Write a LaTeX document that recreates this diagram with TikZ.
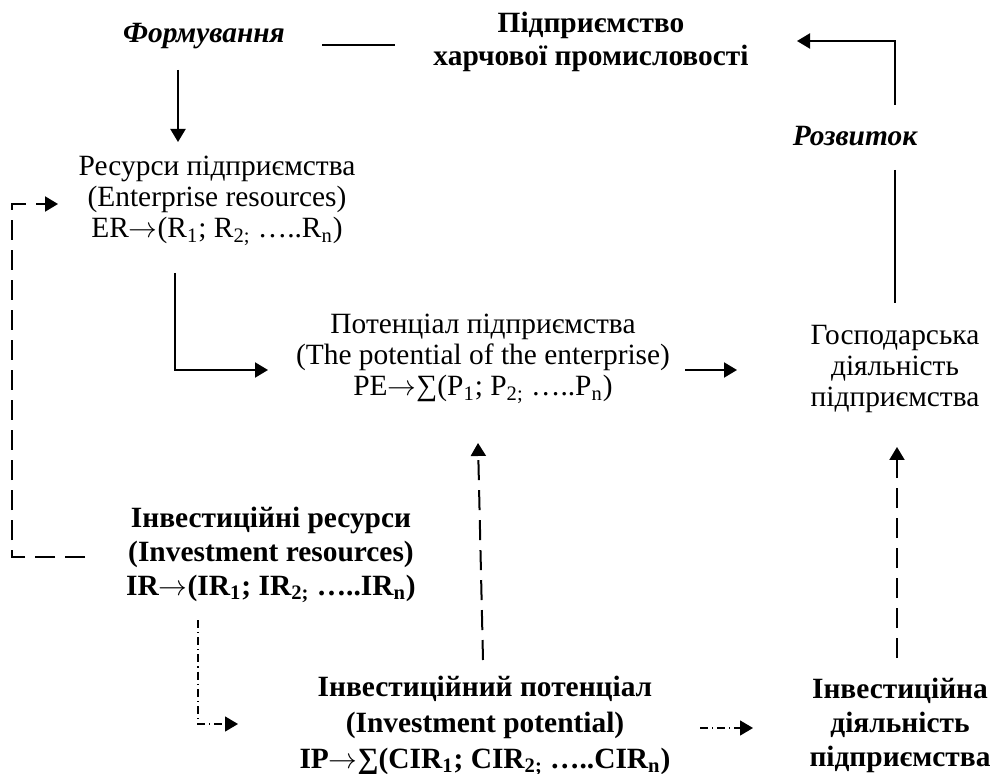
\documentclass[tikz,border=0pt]{standalone}
\usepackage{fontspec}
\setmainfont{Liberation Serif}
\usetikzlibrary{arrows.meta}
\newcommand{\rarr}{\ensuremath{\rightarrow}}
\begin{document}
\begin{tikzpicture}[x=0.5pt,y=-0.5pt,
  every node/.style={inner sep=0pt, outer sep=0pt},
  txt/.style={align=center, font=\fontsize{14.7}{15.5}\selectfont, anchor=base},
  btxt/.style={align=center, font=\fontsize{14.7}{17}\selectfont\bfseries, anchor=base},
  bitxt/.style={align=center, font=\fontsize{14.7}{17}\selectfont\bfseries\itshape, anchor=base},
  tip/.style={-{Triangle[length=6.5pt,width=7.5pt]}},
  conn/.style={line width=1pt},
  arr/.style={conn, tip},
  dsh/.style={line width=1pt, dash pattern=on 10pt off 5pt},
  dshdot/.style={line width=0.7pt, dash pattern=on 4pt off 2pt on 0.6pt off 2pt}]
\useasboundingbox (0,0) rectangle (1000,774);
% nodes (anchor = baseline of the last line)
\node[bitxt] (form) at (204,43) {Формування};
\node[btxt, font=\fontsize{14.7}{16.5}\selectfont\bfseries] (ent) at (591,66) {Підприємство\\харчової промисловості};
\node[bitxt] (dev) at (855,146) {Розвиток};
\node[txt] (er) at (217,238) {Ресурси підприємства\\(Enterprise resources)\\ER\rarr(R\textsubscript{1}; R\textsubscript{2;} …..R\textsubscript{n})};
\node[txt] (pe) at (483,396) {Потенціал підприємства\\(The potential of the enterprise)\\PE\rarr∑(P\textsubscript{1}; P\textsubscript{2;} …..P\textsubscript{n})};
\node[txt] (ga) at (895,407) {Господарська\\діяльність\\підприємства};
\node[btxt] (ir) at (271,595) {Інвестиційні ресурси\\(Investment resources)\\IR\rarr(IR\textsubscript{1}; IR\textsubscript{2;} …..IR\textsubscript{n})};
\node[btxt, font=\fontsize{14.7}{18}\selectfont\bfseries] (ip) at (485,768) {Інвестиційний потенціал\\(Investment potential)\\IP\rarr∑(CIR\textsubscript{1}; CIR\textsubscript{2;} …..CIR\textsubscript{n})};
\node[btxt] (ia) at (900,766) {Інвестиційна\\діяльність\\підприємства};
% connector end points
\coordinate (f1) at (322,45);  \coordinate (f2) at (395,45);
\coordinate (fd1) at (178,70); \coordinate (fd2) at (178,142);
\coordinate (d1) at (895,105); \coordinate (d2) at (797,41);
\coordinate (g1) at (895,170); \coordinate (g2) at (895,303);
\coordinate (e1) at (175,273); \coordinate (e2) at (268,370);
\coordinate (p1) at (685,370); \coordinate (p2) at (737,370);
\coordinate (l1) at (85,557);  \coordinate (l2) at (12,204); \coordinate (l3) at (58,204);
\coordinate (m1) at (483,660); \coordinate (m2) at (478,443);
\coordinate (r1) at (897,658); \coordinate (r2) at (897,447);
\coordinate (i1) at (198,620); \coordinate (i2) at (238,724);
\coordinate (h1) at (700,728); \coordinate (h2) at (753,728);
% connectors
\draw[conn] (f1) -- (f2);
\draw[arr] (fd1) -- (fd2);
\draw[arr] (d1) |- (d2);
\draw[conn] (g1) -- (g2);
\draw[arr] (e1) |- (e2);
\draw[arr] (p1) -- (p2);
\draw[dsh, tip] (l1) -| (l2) -- (l3);
\draw[dsh, tip] (m1) -- (m2);
\draw[dsh, tip] (r1) -- (r2);
\draw[dshdot, tip] (i1) |- (i2);
\draw[dshdot, tip] (h1) -- (h2);
\end{tikzpicture}
\end{document}
